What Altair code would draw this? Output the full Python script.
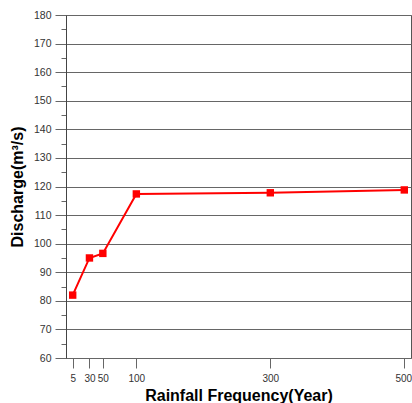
import altair as alt
import pandas as pd

years = [5, 30, 50, 100, 300, 500]
discharge = [82.0, 95.0, 96.6, 117.4, 117.8, 118.8]
x_ticks = [5, 30, 50, 100, 300, 500]
y_ticks = list(range(60, 181, 5))

df = pd.DataFrame({"year": years, "q": discharge})

font = "Liberation Sans"

x_enc = alt.X(
    "year:Q",
    scale=alt.Scale(domain=[-5, 510], nice=False, zero=False),
    axis=alt.Axis(
        values=x_ticks,
        title="Rainfall Frequency(Year)",
        titleFont=font, titleFontSize=16, titleFontWeight="bold", titleColor="#000",
        titlePadding=4,
        labelFont=font, labelFontSize=10, labelColor="#333", labelPadding=5,
        labelOverlap=False, labelBound=False, labelFlush=False,
        labelOffset={"condition": {"test": "datum.value === 500", "value": -1}, "value": 0},
        tickSize=10, tickColor="#666", domain=False, grid=False,
    ),
)
y_enc = alt.Y(
    "q:Q",
    scale=alt.Scale(domain=[60, 180], nice=False, zero=False),
    axis=alt.Axis(
        values=y_ticks,
        title="Discharge(m³/s)",
        titleFont=font, titleFontSize=16, titleFontWeight="bold", titleColor="#000",
        titlePadding=8,
        labelFont=font, labelFontSize=10.5, labelColor="#333", labelPadding=4,
        labelOverlap=False, labelFlush=False,
        labelExpr="datum.value % 10 === 0 ? datum.label : ''",
        tickSize={"condition": {"test": "datum.value % 10 === 0", "value": 11}, "value": 5},
        tickColor="#666",
        domain=True, domainColor="#444",
        grid=True,
        gridColor="#666",
        gridOpacity={"condition": {"test": "datum.value % 10 === 0", "value": 1}, "value": 0},
    ),
)

base = alt.Chart(df).encode(x=x_enc, y=y_enc)
line = base.mark_line(color="#ff0000", strokeWidth=2)
pts = base.mark_square(color="#ff0000", size=55, opacity=1)

chart = (
    alt.layer(line, pts)
    .properties(
        width=345,
        height=343,
        padding={"left": 66, "top": 15, "right": 1, "bottom": 45},
        autosize=alt.AutoSizeParams(type="none"),
        background="white",
    )
    .configure_view(stroke="#555", strokeWidth=1)
)

chart.save("out.html", embed_options={"renderer": "svg", "actions": False})
